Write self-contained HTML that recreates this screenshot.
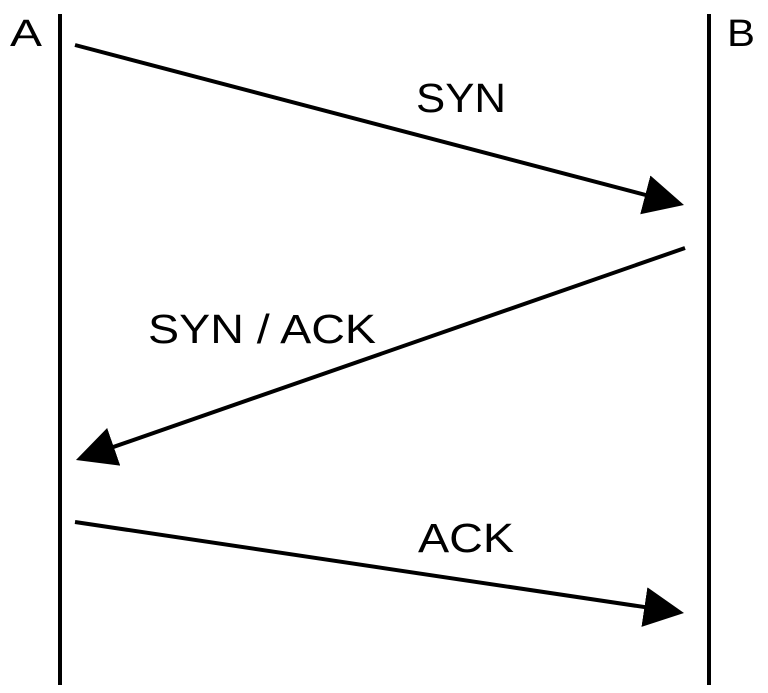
<!DOCTYPE html>
<html><head><style>
html,body{margin:0;padding:0;background:#fff;}
svg{display:block}
text{font-family:"Liberation Sans",sans-serif;fill:#000;}
</style></head><body>
<svg width="768" height="693" viewBox="0 0 768 693" xmlns="http://www.w3.org/2000/svg">
<defs>
<marker id="ah" markerUnits="userSpaceOnUse" markerWidth="44" markerHeight="44" refX="30" refY="20" orient="auto">
<path d="M0,0 L40,20 L0,40 Z" fill="#000"/>
</marker>
</defs>
<line x1="60" y1="14" x2="60" y2="685" stroke="#000" stroke-width="4"/>
<line x1="709" y1="14" x2="709" y2="685" stroke="#000" stroke-width="4"/>
<line x1="75" y1="45" x2="674.3" y2="202.5" stroke="#000" stroke-width="4" marker-end="url(#ah)"/>
<line x1="685" y1="248" x2="85.4" y2="456.7" stroke="#000" stroke-width="4" marker-end="url(#ah)"/>
<line x1="75" y1="522" x2="674.1" y2="611.5" stroke="#000" stroke-width="4" marker-end="url(#ah)"/>
<text x="10" y="46" font-size="38" textLength="32" lengthAdjust="spacingAndGlyphs">A</text>
<text x="727" y="46" font-size="38" textLength="28" lengthAdjust="spacingAndGlyphs">B</text>
<text x="416" y="112" font-size="41" textLength="90" lengthAdjust="spacingAndGlyphs">SYN</text>
<text x="148" y="343" font-size="41" textLength="228" lengthAdjust="spacingAndGlyphs">SYN / ACK</text>
<text x="418" y="552" font-size="41" textLength="96" lengthAdjust="spacingAndGlyphs">ACK</text>
</svg>
</body></html>
